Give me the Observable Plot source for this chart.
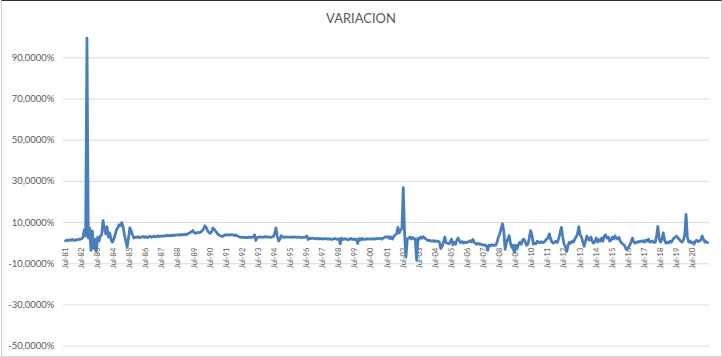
<!DOCTYPE html>
<html>
<head>
<meta charset="utf-8">
<script src="https://cdn.jsdelivr.net/npm/d3@7"></script>
<script src="https://cdn.jsdelivr.net/npm/@observablehq/plot@0.6"></script>
<style>
  html, body { margin: 0; padding: 0; background: #ffffff; }
  #wrap { position: relative; width: 722px; height: 357px; overflow: hidden; background: #fff; }
  #title { position: absolute; left: 0; top: 9px; width: 722px; text-align: center;
           font-family: Lato, "Liberation Sans", sans-serif; font-size: 13px; color: #595959; line-height: 18px; }
  #chart { position: absolute; left: 0; top: 0; }
  #frame { position: absolute; left: 1px; top: 0; width: 719px; height: 355px;
           border: 1px solid #d0d0d0; border-top: 1px solid #333; pointer-events: none; }
</style>
</head>
<body>
<div id="wrap">
  <div id="chart"></div>
  <div id="title">VARIACION</div>
  <div id="frame"></div>
</div>
<script>
// Serie mensual desde Jul-1981 (valores en %)
const inicioAnio = 1981;
const inicioMes = 6; // julio
const variacion = [
  1.2, 1.5, 1.3, 1.6, 1.4, 1.8, 1.5, 1.3, 1.7, 1.6, 2.0, 1.9,
  2.2, 2.8, 6.5, 3.5, 99.5, 2.5, 7.5, -3.5, 6.0, -2.5, 2.0, -4.0,
  3.0, 1.0, 3.5, 4.0, 11.0, 7.5, 4.5, 8.0, 3.0, 5.0, 1.5, 0.5,
  2.0, 4.0, 6.5, 7.5, 9.0, 8.5, 10.0, 8.0, 4.0, 1.0, -2.0, 2.5,
  7.5, 6.0, 4.0, 2.5, 3.0, 2.8, 3.2, 2.6, 3.0, 2.9, 3.3, 2.8,
  3.2, 2.7, 3.0, 3.4, 2.9, 3.1, 3.5, 3.0, 3.3, 3.6, 3.2, 3.4,
  3.6, 3.3, 3.7, 3.5, 3.9, 3.6, 3.8, 3.5, 4.0, 3.7, 3.9, 4.1,
  3.8, 4.2, 3.9, 4.3, 4.0, 4.4, 4.1, 4.5, 4.8, 5.2, 5.6, 6.2,
  5.2, 4.8, 5.0, 5.3, 5.1, 5.5, 6.0, 7.0, 8.5, 7.6, 6.0, 5.2,
  4.8, 5.6, 7.4, 6.8, 5.8, 5.0, 4.2, 3.8, 3.5, 3.2, 3.6, 4.0,
  4.2, 3.8, 4.1, 3.9, 4.3, 4.0, 3.7, 4.1, 3.5, 3.3, 3.0, 2.8,
  3.0, 2.7, 2.9, 2.6, 2.8, 3.0, 2.7, 2.9, 3.1, 4.0, 1.3, 2.8,
  3.0, 2.9, 3.1, 2.8, 3.0, 3.2, 2.9, 3.1, 3.0, 2.8, 3.0, 3.2,
  4.5, 7.4, 3.5, 1.0, 2.0, 3.7, 3.0, 2.8, 3.1, 2.9, 3.0, 2.9,
  3.0, 2.8, 3.1, 2.9, 3.0, 2.8, 2.9, 3.0, 2.7, 2.9, 2.8, 3.0,
  3.5, 1.8, 2.4, 2.2, 2.5, 2.3, 2.1, 2.4, 2.2, 2.0, 2.3, 2.1,
  2.2, 2.0, 2.3, 2.1, 1.9, 2.2, 2.0, 1.8, 2.1, 2.3, 2.0, 1.9,
  2.2, -0.3, 2.5, 1.8, 2.0, 2.2, 1.9, 1.6, 2.0, 2.3, 1.8, 2.1,
  1.7, 2.0, -0.2, 2.2, 1.5, 2.4, 1.8, 2.0, 1.9, 2.2, 2.0, 2.1,
  2.1, 1.9, 2.2, 2.0, 2.3, 2.1, 2.4, 2.2, 2.0, 2.5, 2.8, 3.2,
  2.8, 3.2, 2.2, 3.0, 2.0, 3.4, 4.0, 4.5, 7.7, 5.0, 6.5, 7.0,
  27.0, 5.0, -6.8, 2.0, 2.5, 3.0, 2.0, 2.8, 2.2, 2.0, -8.4, 2.5,
  2.0, 3.0, 2.4, 3.2, 2.5, 2.0, 1.5, 1.2, 1.4, 1.0, 1.3, 0.8,
  1.2, 0.8, 1.0, 0.5, -2.6, -1.5, 0.5, 3.0, 0.2, 0.0, -0.3, 0.5,
  2.0, -0.8, 0.5, -0.5, 1.5, 2.5, 1.0, 0.2, 0.8, 0.0, 0.5, 0.3,
  0.5, 0.8, 1.2, 0.6, 1.8, 0.5, -0.3, -0.5, 0.0, -0.6, -0.4, -0.8,
  -1.0, -0.8, -1.2, -3.5, -1.0, -1.3, -0.7, -1.1, -0.9, -1.0, 0.5, 3.0,
  4.5, 7.0, 9.5, 6.0, -3.0, 0.5, 2.0, 3.7, 0.0, -2.0, -1.0, -4.5,
  -1.0, -2.5, -0.5, 0.5, -0.5, 1.5, 2.0, 0.5, -1.0, -0.5, 2.5, 6.1,
  4.0, -0.5, 0.0, -0.3, 1.0, 0.5, 0.2, 0.8, 0.3, 0.5, 1.2, 2.0,
  2.5, 4.5, 2.0, 0.5, 0.0, 0.5, 1.0, 0.3, 2.5, 5.0, 7.7, 3.0,
  -0.5, -1.5, -4.0, -1.0, 0.5, 0.0, 1.0, 0.5, 2.0, 3.0, 4.5, 8.0,
  4.0, 3.0, 0.5, -1.5, 1.0, 3.5, 2.0, 1.5, 3.0, 1.0, 0.0, 1.0,
  2.5, 0.5, 1.8, 1.0, 2.5, 1.0, 3.5, 4.0, 2.5, 3.0, 1.0, 1.5,
  3.0, 2.0, 3.5, 2.5, 2.0, 2.8, 1.0, 0.0, -0.5, -1.0, -2.5, -3.0,
  -2.0, -1.0, 0.5, 2.5, 0.5, 0.0, 0.3, 0.8, 0.5, 1.0, 0.8, 1.2,
  0.5, 1.5, 1.0, 2.0, 0.5, 0.8, 1.0, 0.3, 0.5, 3.5, 8.2, 2.0,
  0.5, 2.0, 5.0, 1.5, 0.0, 0.5, 0.2, 1.0, 0.5, 1.5, 2.5, 3.0,
  3.5, 2.5, 1.8, 1.0, 0.5, 1.5, 4.0, 14.0, 3.0, 0.5, 1.0, 0.2,
  0.5, -0.5, 1.0, 1.5, 0.8, 1.0, 1.5, 3.5, 2.0, 0.5, 0.8, 0.3
];
const etiquetas = [
  "Jul-81","Jul-82","Jul-83","Jul-84","Jul-85","Jul-86","Jul-87","Jul-88","Jul-89","Jul-90",
  "Jul-91","Jul-92","Jul-93","Jul-94","Jul-95","Jul-96","Jul-97","Jul-98","Jul-99","Jul-00",
  "Jul-01","Jul-02","Jul-03","Jul-04","Jul-05","Jul-06","Jul-07","Jul-08","Jul-09","Jul-10",
  "Jul-11","Jul-12","Jul-13","Jul-14","Jul-15","Jul-16","Jul-17","Jul-18","Jul-19","Jul-20"
];
const yTicks = [90, 70, 50, 30, 10, -10, -30, -50];

const start = new Date(Date.UTC(inicioAnio, inicioMes, 1));
const data = variacion.map((v, i) => ({i, fecha: d3.utcMonth.offset(start, i), v}));
const tickData = etiquetas.map((t, k) => ({i: k * 12, t}));
const fmt = d => d.toFixed(4).replace(".", ",") + "%";

const chart = Plot.plot({
  width: 722,
  height: 357,
  marginLeft: 63,
  marginRight: 13,
  marginTop: 57.3,
  marginBottom: 11.3,
  style: {fontFamily: "Lato, 'Liberation Sans', sans-serif", color: "#595959", background: "transparent"},
  x: {domain: [-1.5, 480.5], axis: null},
  y: {domain: [-50, 90], axis: null},
  marks: [
    Plot.gridY({ticks: yTicks, stroke: "#d9d9d9", strokeOpacity: 1, strokeWidth: 1}),
    Plot.axisY({ticks: yTicks, tickSize: 0, tickPadding: 9, tickFormat: fmt, fontSize: 9.5, label: null}),
    Plot.text(tickData, {x: "i", y: () => 0, text: "t", rotate: -90, textAnchor: "end", dy: 4.5, fontSize: 7.5, fill: "#595959"}),
    Plot.lineY(data, {x: "i", y: "v", stroke: "#4a7ebb", strokeWidth: 2.75, strokeLinejoin: "round", strokeLinecap: "round"})
  ]
});
document.getElementById("chart").appendChild(chart);
</script>
</body>
</html>
